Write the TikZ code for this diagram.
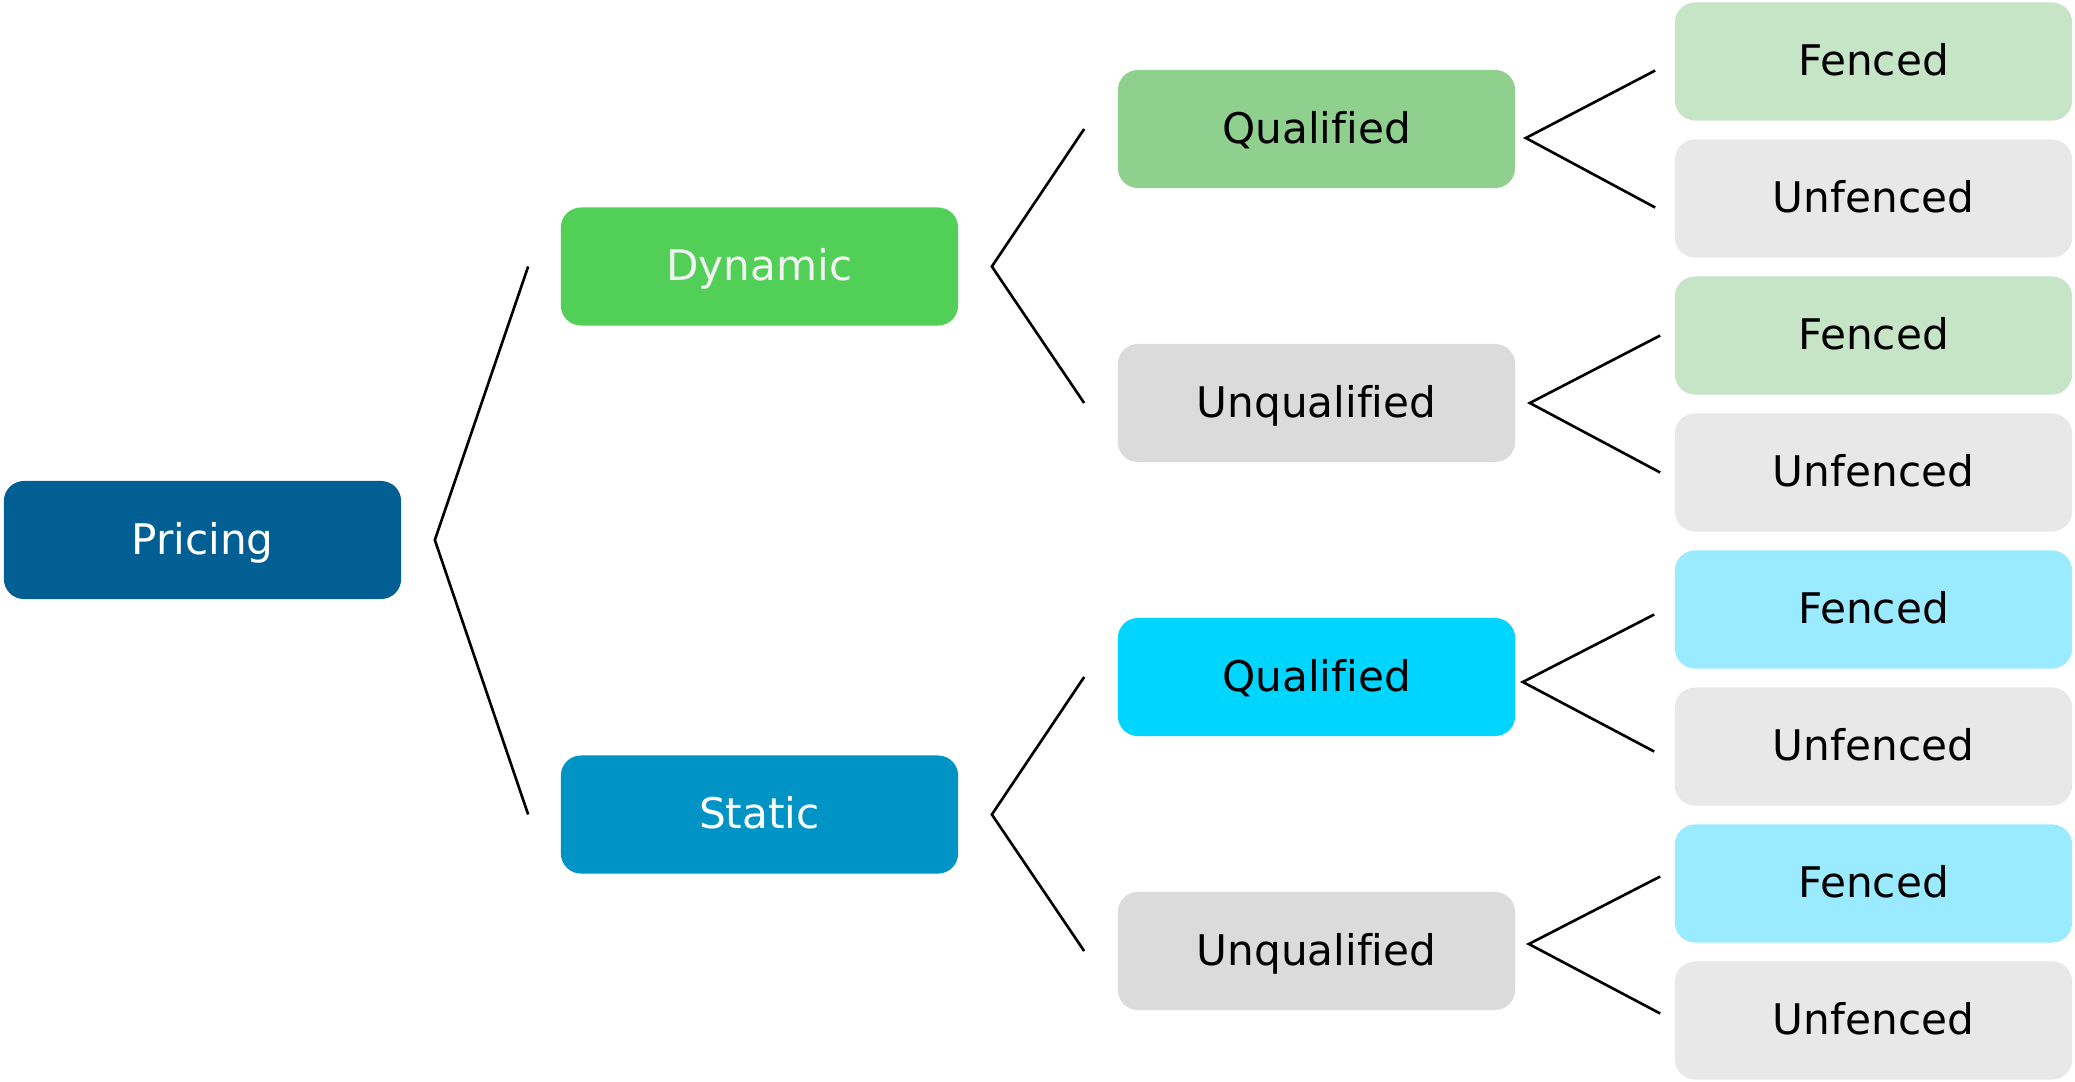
\documentclass[tikz,border=0pt]{standalone}
\usepackage{fontspec}
\setmainfont[Ligatures=NoCommon]{DejaVu Sans}
\usetikzlibrary{positioning}
\definecolor{pricingblue}{HTML}{025F94}
\definecolor{dyngreen}{HTML}{51CF57}
\definecolor{staticblue}{HTML}{0094C6}
\definecolor{qualgreen}{HTML}{8FD08F}
\definecolor{qualcyan}{HTML}{00D5FF}
\definecolor{unqualgrey}{HTML}{DBDBDB}
\definecolor{fencegreen}{HTML}{C5E5C6}
\definecolor{fencecyan}{HTML}{9AEBFF}
\definecolor{unfencegrey}{HTML}{E8E8E8}
\tikzset{
  box/.style={rounded corners=0.2cm, minimum width=3.97cm, minimum height=1.18cm,
    inner sep=0pt, text height=9pt, text depth=0.8pt,
    font=\fontsize{12}{14}\selectfont},
  fork/.style={line width=0.75pt, black},
}

\begin{document}
\begin{tikzpicture}[x=0.01cm,y=-0.01cm]
\useasboundingbox (0,0) rectangle (2075,1081);
% root and pricing type
\node[box,fill=pricingblue,text=white] (pricing) at (202.5,540) {Pricing};
\node[box,fill=dyngreen,text=white!95!black] (dynamic) at (759.5,266.5) {Dynamic};
\node[box,fill=staticblue,text=white] (static) at (759.5,814.5) {Static};
% qualification
\node[box,fill=qualgreen] (qualdyn) at (1316.5,129) {Qualified};
\node[box,fill=unqualgrey] (unqualdyn) at (1316.5,403) {Unqualified};
\node[box,fill=qualcyan] (qualsta) at (1316.5,677) {Qualified};
\node[box,fill=unqualgrey] (unqualsta) at (1316.5,951) {Unqualified};
% fences
\foreach \n/\y/\c/\t in {fqd/61.5/fencegreen/Fenced, uqd/198.5/unfencegrey/Unfenced,
    fud/335.5/fencegreen/Fenced, uud/472.5/unfencegrey/Unfenced,
    fqs/609.5/fencecyan/Fenced, uqs/746.5/unfencegrey/Unfenced,
    fus/883.5/fencecyan/Fenced, uus/1020.5/unfencegrey/Unfenced}
  \node[box,fill=\c] (\n) at (1873.5,\y) {\t};
% forks: parent/upper/lower/gap at parent/gap at child/vertical shift
\foreach \p/\a/\b/\gp/\gc/\dy in {pricing/dynamic/static/0.33/0.32/0,
    dynamic/qualdyn/unqualdyn/0.33/0.33/0,
    static/qualsta/unqualsta/0.33/0.33/0,
    qualdyn/fqd/uqd/0.10/0.19/-0.09,
    unqualdyn/fud/uud/0.14/0.14/0,
    qualsta/fqs/uqs/0.07/0.20/-0.05,
    unqualsta/fus/uus/0.13/0.14/0.07} {
  \coordinate (\p-fork) at ([xshift=\gp cm,yshift=\dy cm]\p.east);
  \draw[fork] ([xshift=-\gc cm,yshift=\dy cm]\a.west) -- (\p-fork)
    -- ([xshift=-\gc cm,yshift=\dy cm]\b.west);
}
\end{tikzpicture}
\end{document}
